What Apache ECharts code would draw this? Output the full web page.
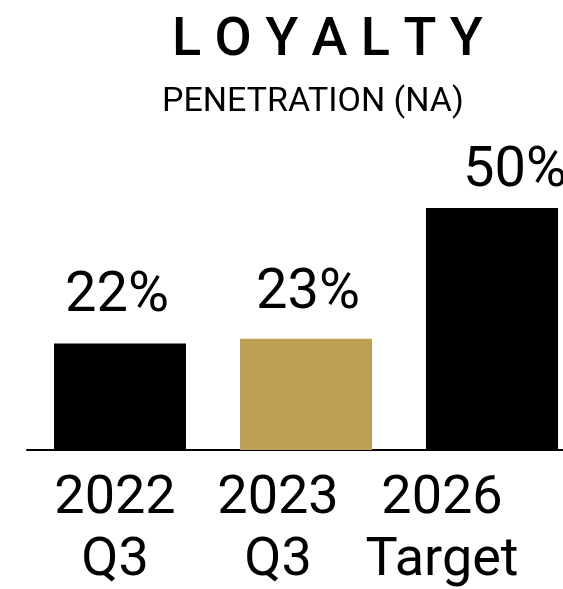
<!DOCTYPE html>
<html>
<head>
<meta charset="utf-8">
<script src="https://cdn.jsdelivr.net/npm/echarts@6/dist/echarts.min.js"></script>
<style>
  html, body { margin: 0; padding: 0; background: #fff; }
  #chart { width: 563px; height: 589px; }
</style>
</head>
<body>
<div id="chart"></div>
<script>
const categories = ['2022\nQ3', '2023\nQ3', '2026\nTarget']
const values = [22, 23, 50]
const barColors = ['#000000', '#bc9e54', '#000000']

const font = 'Roboto, "Noto Sans", sans-serif'
const chart = echarts.init(document.getElementById('chart'))

// the source image places labels a bit off the bar centres
const labelOffsets = [[-3, -11], [2, -9], [23, 0]]
const axisShift = [10, 56, 100]

const rich = {}
axisShift.forEach((p, i) => {
  rich['s' + i] = { fontSize: 54, fontFamily: font, color: '#000', lineHeight: 62, padding: [0, p, 0, 0] }
})

const option = {
  animation: false,
  title: [
    {
      text: 'L O Y A L T Y',
      left: 167,
      top: 9,
      textStyle: { fontSize: 54, fontWeight: 500, fontFamily: font, color: '#000' }
    },
    {
      text: 'PENETRATION (NA)',
      left: 157,
      top: 80,
      textStyle: { fontSize: 34, fontWeight: 400, fontFamily: font, color: '#000' }
    }
  ],
  grid: { left: 27, top: 208, width: 558, height: 242, outerBoundsMode: 'none' },
  xAxis: {
    type: 'category',
    data: categories,
    axisLine: { lineStyle: { color: '#000', width: 2 } },
    axisTick: { show: false },
    axisLabel: {
      interval: 0,
      margin: 18,
      formatter: (v, i) => v.split('\n').map(l => `{s${i}|${l}}`).join('\n'),
      rich: rich
    }
  },
  yAxis: { type: 'value', min: 0, max: 50, show: false },
  series: [{
    type: 'bar',
    barWidth: 132,
    data: values.map((v, i) => ({
      value: v,
      itemStyle: { color: barColors[i] },
      label: { offset: labelOffsets[i] }
    })),
    label: {
      show: true,
      position: 'top',
      distance: 8,
      formatter: '{c}%',
      fontSize: 56,
      fontFamily: font,
      color: '#000'
    }
  }]
}

chart.setOption(option)
</script>
</body>
</html>
